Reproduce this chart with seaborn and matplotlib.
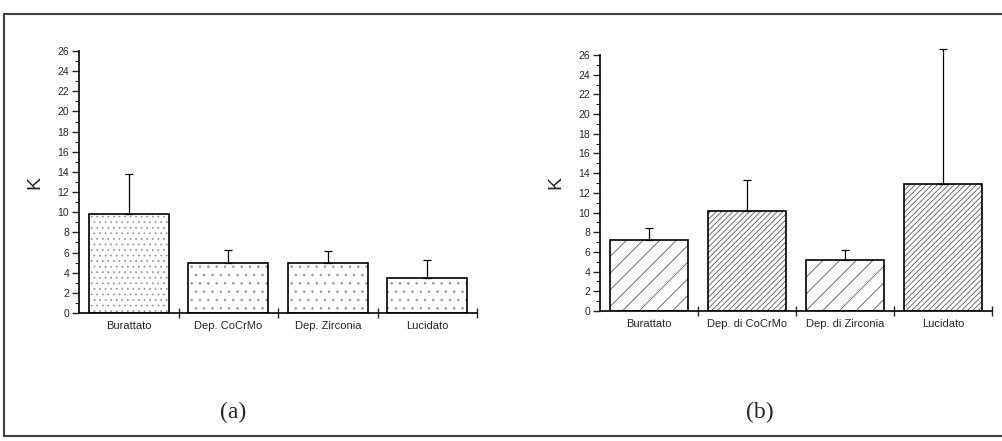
import matplotlib
matplotlib.use("Agg")
import matplotlib.pyplot as plt
import numpy as np
import seaborn as sns
from matplotlib.lines import Line2D
from matplotlib.ticker import FixedLocator, MultipleLocator

# panel (a)
cats_a = ["Burattato", "Dep. CoCrMo", "Dep. Zirconia", "Lucidato"]
k_a = [9.8, 5.0, 5.0, 3.5]
err_a = [4.0, 1.3, 1.2, 1.8]

# panel (b)
cats_b = ["Burattato", "Dep. di CoCrMo", "Dep. di Zirconia", "Lucidato"]
k_b = [7.2, 10.2, 5.2, 12.9]
err_b = [1.2, 3.1, 1.0, 13.7]

sns.set_style("white")
plt.rcParams["font.family"] = ["Liberation Sans", "DejaVu Sans"]
plt.rcParams["hatch.linewidth"] = 0.6


def draw_panel(ax, cats, vals, errs, hatches, hatch_color):
    # hatched fill first, then a black outline on top
    sns.barplot(x=cats, y=vals, ax=ax, color="white", saturation=1,
                width=0.8, edgecolor=hatch_color, linewidth=0)
    for p, h in zip(ax.patches, hatches):
        p.set_hatch(h)
    sns.barplot(x=cats, y=vals, ax=ax, fill=False, saturation=1,
                width=0.8, edgecolor="black", linewidth=1.2)
    xs = np.arange(len(cats))
    ax.errorbar(xs, vals, yerr=[np.zeros(len(errs)), errs], fmt="none",
                ecolor="black", elinewidth=0.9, capsize=3, capthick=0.9,
                clip_on=False)

    ax.set_xlim(-0.5, len(cats) - 0.5)
    ax.set_ylim(0, 26)
    ax.yaxis.set_major_locator(MultipleLocator(2))
    ax.yaxis.set_minor_locator(MultipleLocator(1))
    ax.xaxis.set_minor_locator(FixedLocator(np.arange(len(cats)) + 0.5))
    ax.tick_params(axis="y", which="major", direction="out", length=5,
                   width=1, labelsize=7.5, pad=2, left=True)
    ax.tick_params(axis="y", which="minor", direction="out", length=3,
                   width=0.8, left=True)
    ax.tick_params(axis="x", which="major", length=0, labelsize=8, pad=6)
    ax.tick_params(axis="x", which="minor", direction="inout", length=7,
                   width=1, bottom=True)
    for s in ["top", "right"]:
        ax.spines[s].set_visible(False)
    for s in ["left", "bottom"]:
        ax.spines[s].set_linewidth(1.2)
        ax.spines[s].set_color("black")
    ax.set_ylabel("K", fontsize=14, labelpad=10)
    ax.set_xlabel("")
    ax.set_facecolor("none")


fig = plt.figure(figsize=(10.03, 4.41), dpi=100)
ax_a = fig.add_axes([0.0788, 0.2902, 0.3968, 0.5941])
ax_b = fig.add_axes([0.5982, 0.2948, 0.3908, 0.5805])

draw_panel(ax_a, cats_a, k_a, err_a, ["...", "..", "..", ".."], "0.6")
draw_panel(ax_b, cats_b, k_b, err_b, ["//", "//////", "//", "//////"], "0.35")

fig.text(0.232, 0.065, "(a)", fontsize=17, family="Liberation Serif",
         ha="center", va="center")
fig.text(0.758, 0.065, "(b)", fontsize=17, family="Liberation Serif",
         ha="center", va="center")

# scanned page frame
for xs, ys in [([0.004, 1.0], [0.968, 0.968]),
               ([0.004, 0.004], [0.968, 0.011]),
               ([0.004, 1.0], [0.011, 0.011])]:
    fig.add_artist(Line2D(xs, ys, color="0.25", lw=1.5,
                          transform=fig.transFigure))

fig.savefig("out.png", dpi=100)
